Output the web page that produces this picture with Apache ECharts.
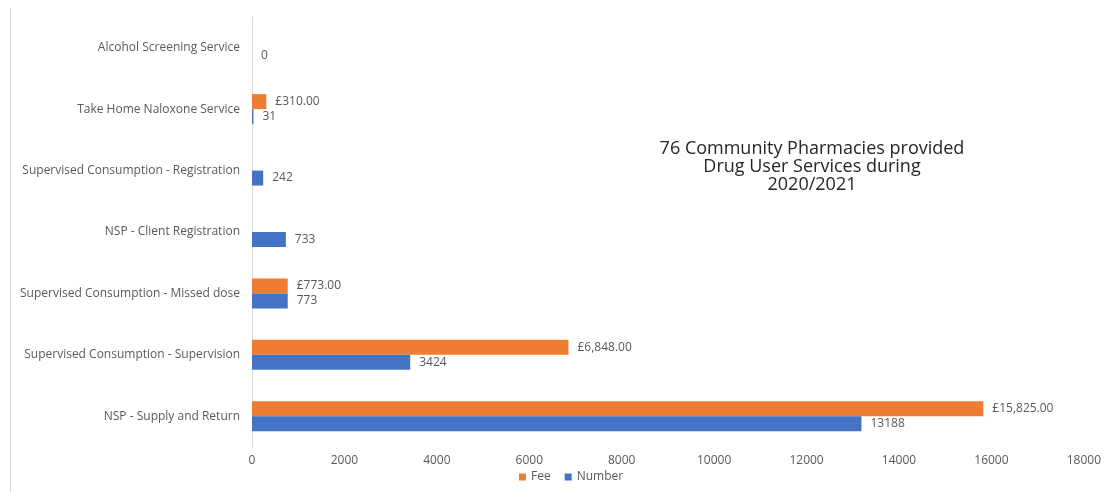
<!DOCTYPE html>
<html><head><meta charset="utf-8">
<script src="https://cdn.jsdelivr.net/npm/echarts@6/dist/echarts.min.js"></script>
<style>html,body{margin:0;padding:0;background:#fff}#c{width:1104px;height:492px}</style>
</head><body><div id="c"></div>
<script>
// bottom to top
const categories = ["NSP - Supply and Return","Supervised Consumption - Supervision","Supervised Consumption - Missed dose","NSP - Client Registration","Supervised Consumption - Registration","Take Home Naloxone Service","Alcohol Screening Service"];
const feeValues = [15825, 6848, 773, null, null, 310, null];
const numberValues = [13188, 3424, 773, 733, 242, 31, 0];
const xTicks = [0,2000,4000,6000,8000,10000,12000,14000,16000,18000];
const titleLines = ["76 Community Pharmacies provided","Drug User Services during","2020/2021"];

const FONT = "'Open Sans', sans-serif";
const chart = echarts.init(document.getElementById('c'), null, {renderer:'canvas'});
chart.setOption({
  animation:false,
  textStyle:{fontFamily:FONT},
  title:{text:titleLines.join('\n'), left:807, top:135, textAlign:'center',
    textStyle:{fontFamily:FONT,fontSize:18,fontWeight:'normal',color:'#262626',lineHeight:18}},
  legend:{data:['Fee','Number'], bottom:4, left:514, itemWidth:7, itemHeight:7, itemGap:14,
    icon:'rect', textStyle:{fontFamily:FONT,fontSize:12,color:'#595959'}},
  grid:{left:252,right:14,top:17,bottom:45,containLabel:false},
  xAxis:{type:'value',min:xTicks[0],max:xTicks[xTicks.length-1],interval:2000,
    axisLine:{show:false},axisTick:{show:false},splitLine:{show:false},
    axisLabel:{fontFamily:FONT,fontSize:12,color:'#595959',margin:8,formatter:v=>String(v)}},
  yAxis:{type:'category',data:categories,
    axisLine:{show:true,lineStyle:{color:'#d9d9d9'}},axisTick:{show:false},
    axisLabel:{fontFamily:FONT,fontSize:12,color:'#595959',margin:12}},
  graphic:[{type:'line',shape:{x1:10.5,y1:8,x2:10.5,y2:492},style:{stroke:'#d9d9d9',lineWidth:1}}],
  series:[
    {name:'Fee',type:'bar',data:feeValues,barWidth:15,barGap:'0%',
      itemStyle:{color:'#ED7D31'},
      label:{show:true,position:'right',distance:9,fontFamily:FONT,fontSize:12,color:'#595959',
        formatter:p=>p.value==null?'':'£'+Number(p.value).toLocaleString('en-GB',{minimumFractionDigits:2,maximumFractionDigits:2})}},
    {name:'Number',type:'bar',data:numberValues,barWidth:15,barGap:'0%',
      itemStyle:{color:'#4472C4'},
      label:{show:true,position:'right',distance:9,fontFamily:FONT,fontSize:12,color:'#595959',
        formatter:p=>p.value==null?'':String(p.value)}}
  ]
});
</script></body></html>
